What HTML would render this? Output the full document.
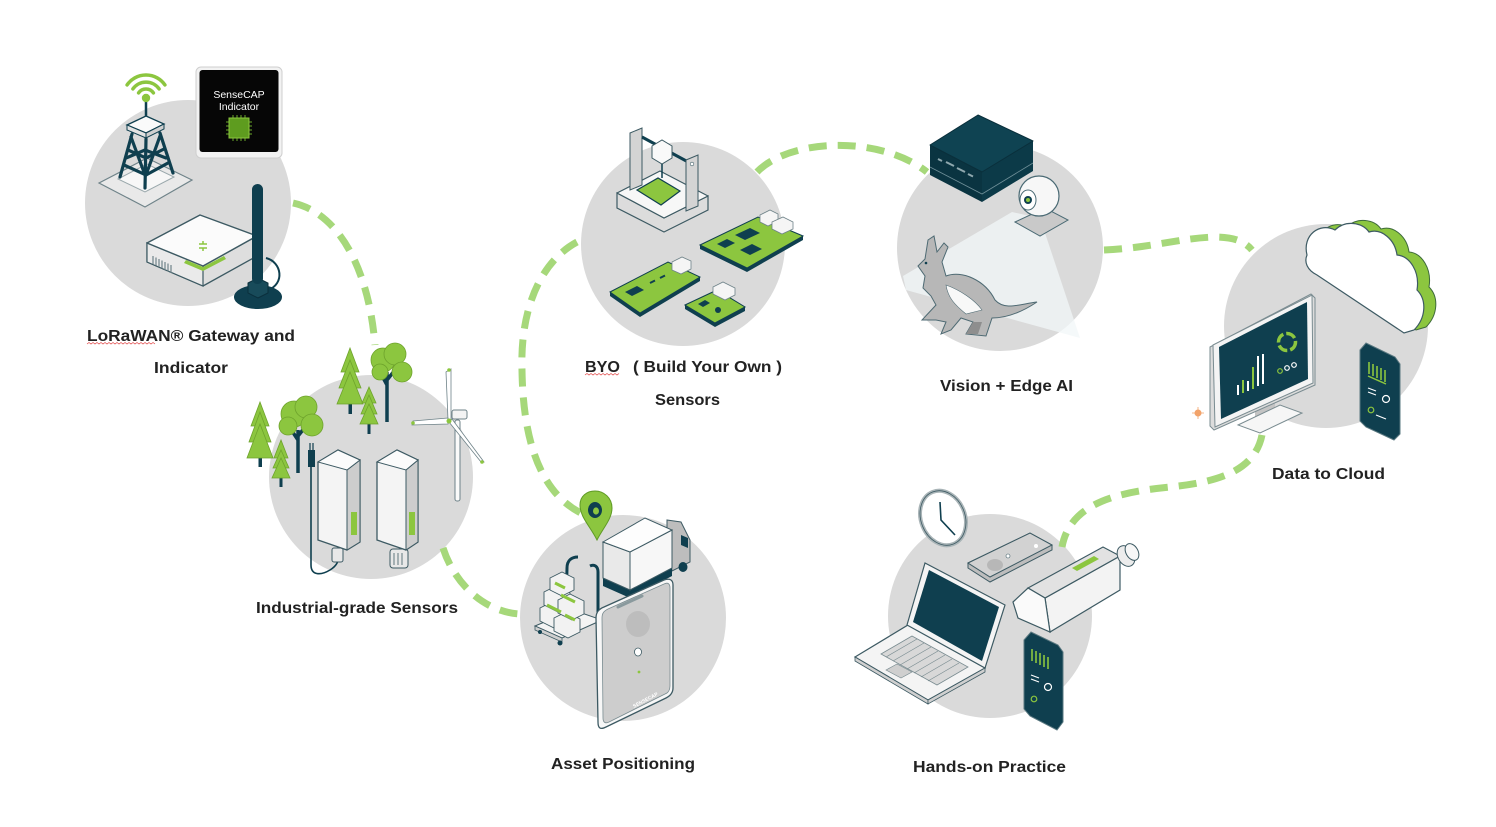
<!DOCTYPE html>
<html><head><meta charset="utf-8"><style>
html,body{margin:0;padding:0;background:#fff;}
svg{display:block;}
text{font-family:"Liberation Sans",Arial,sans-serif;font-weight:bold;}
</style></head><body>
<svg width="1496" height="827" viewBox="0 0 1496 827" xmlns="http://www.w3.org/2000/svg">
<rect width="1496" height="827" fill="#fff"/>
<!-- circles -->
<g fill="#dadada">
<circle cx="188" cy="203" r="103"/>
<circle cx="371" cy="477" r="102"/>
<circle cx="683" cy="244" r="102"/>
<circle cx="1000" cy="248" r="103"/>
<circle cx="1326" cy="326" r="102"/>
<circle cx="623" cy="618" r="103"/>
<circle cx="990" cy="616" r="102"/>
</g>
<!-- connectors -->
<g fill="none" stroke="#a6d87a" stroke-width="7" stroke-dasharray="18 11">
<path d="M293,203 C335,212 368,262 375,345"/>
<path d="M443,548 C455,585 485,612 520,614"/>
<path d="M577,242 C540,262 520,310 522,370 C523,440 540,495 585,515"/>
<path d="M757,172 C790,138 880,135 927,172"/>
<path d="M1104,250 C1150,248 1180,238 1215,237 C1235,237 1245,242 1252,250"/>
<path d="M1262,435 C1255,470 1220,482 1170,487 C1120,492 1070,502 1062,547"/>
</g>

<!-- ===== Circle 1: LoRaWAN ===== -->
<!-- tower base -->
<polygon points="99,183 147,158 192,180 145,207" fill="#e9e9e9" stroke="#6f8389" stroke-width="1.2"/>
<polygon points="118,179 147,164 174,177 145,192" fill="#f7f7f7" stroke="#9aa8ac" stroke-width="1"/>
<!-- lattice -->
<g stroke="#0f3f4f" stroke-width="3.2" fill="none" stroke-linecap="round">
<path d="M132,134 L120,177"/><path d="M160,133 L173,173"/><path d="M146,139 L145,188"/>
<path d="M128,150 L146,158 L164,149"/><path d="M124,165 L146,175 L168,163"/>
<path d="M131,137 L145,175"/><path d="M160,136 L146,175"/>
<path d="M126,158 L145,150 L166,158"/>
</g>
<polygon points="127,125 146,116 164,124 146,133" fill="#fafafa" stroke="#0f3f4f" stroke-width="1.3"/>
<polygon points="127,125 146,133 146,138 127,130" fill="#e3e3e3" stroke="#0f3f4f" stroke-width="1"/>
<polygon points="146,133 164,124 164,129 146,138" fill="#d0d0d0" stroke="#0f3f4f" stroke-width="1"/>
<line x1="146" y1="116" x2="146" y2="100" stroke="#0f3f4f" stroke-width="2.5"/>
<circle cx="146" cy="98" r="4.2" fill="#8cc63f"/>
<g fill="none" stroke="#8cc63f" stroke-width="3.5" stroke-linecap="round">
<path d="M138.6,92.9 A9 9 0 0 1 153.4,92.9"/>
<path d="M132.9,88.9 A16 16 0 0 1 159.1,88.9"/>
<path d="M127.1,84.9 A23 23 0 0 1 164.9,84.9"/>
</g>
<!-- indicator -->
<rect x="196" y="67" width="86" height="91" rx="5" fill="#f2f2f2" stroke="#cfcfcf"/>
<rect x="199.5" y="70" width="79" height="82" rx="3" fill="#060606"/>
<text x="239" y="98" font-size="10.5" fill="#fff" text-anchor="middle" style="font-weight:normal">SenseCAP</text>
<text x="239" y="110" font-size="10.5" fill="#fff" text-anchor="middle" style="font-weight:normal">Indicator</text>
<g stroke="#6aa82a" stroke-width="1">
<path d="M229,122 h-3 M229,126 h-3 M229,130 h-3 M229,134 h-3 M249,122 h3 M249,126 h3 M249,130 h3 M249,134 h3 M233,118 v-3 M237,118 v-3 M241,118 v-3 M245,118 v-3 M233,138 v3 M237,138 v3 M241,138 v3 M245,138 v3"/>
</g>
<rect x="229" y="118" width="20" height="20" fill="#5e9c1f" stroke="#8cc63f" stroke-width="1"/>
<!-- gateway -->
<polygon points="147,243 147,262 203,286 257,256 257,236 203,266" fill="#dedede" stroke="#3d5a63" stroke-width="1.3"/>
<polygon points="147,243 203,266 203,286 147,262" fill="#eaeaea" stroke="#3d5a63" stroke-width="1.2"/>
<polygon points="147,243 200,215 257,236 203,266" fill="#fbfbfb" stroke="#3d5a63" stroke-width="1.4" stroke-linejoin="round"/>
<path d="M186,260 L203,267 L224,256 L226,259 L203,271 L184,263 Z" fill="#8cc63f"/>
<g stroke="#6f8389" stroke-width="1.2"><path d="M153,256 v8 M156,257.5 v8 M159,259 v8 M162,260.5 v8 M165,262 v8 M168,263.5 v8 M171,265 v8"/></g>
<path d="M199,244 h8 M199,248 h8 M203,241 v3 M203,248 v3" stroke="#8cc63f" stroke-width="1.5"/>
<!-- antenna -->
<path d="M268,290 C285,284 282,262 266,258" fill="none" stroke="#0f3f4f" stroke-width="2"/>
<ellipse cx="258" cy="297" rx="24" ry="12" fill="#0f3f4f"/>
<polygon points="248,283 258,278 268,283 268,293 258,298 248,293" fill="#184b5a" stroke="#0a2f3b"/>
<rect x="252" y="184" width="11" height="100" rx="5.5" fill="#0f3f4f"/>

<!-- ===== Circle 2: Industrial ===== -->
<g fill="#8cc63f" stroke="#6ea32c" stroke-width="0.8">
<!-- conifer A -->
<rect x="258.5" y="452" width="3.5" height="15" fill="#0f3f4f" stroke="none"/>
<polygon points="260,402 251,426 269,426"/><polygon points="260,412 249,442 271,442"/><polygon points="260,424 247,458 273,458"/>
<!-- conifer B -->
<rect x="279.5" y="474" width="3" height="13" fill="#0f3f4f" stroke="none"/>
<polygon points="281,440 274,458 288,458"/><polygon points="281,450 273,468 289,468"/><polygon points="281,458 272,478 290,478"/>
<!-- conifer D -->
<rect x="348.5" y="400" width="3.5" height="14" fill="#0f3f4f" stroke="none"/>
<polygon points="350,348 341,372 359,372"/><polygon points="350,360 339,388 361,388"/><polygon points="350,372 337,404 363,404"/>
<!-- conifer E -->
<rect x="367.5" y="421" width="3" height="13" fill="#0f3f4f" stroke="none"/>
<polygon points="369,387 362,403 376,403"/><polygon points="369,395 361,414 377,414"/><polygon points="369,404 360,424 378,424"/>
</g>
<!-- deciduous C -->
<path d="M298,473 L298,430 M298,440 L290,428 M298,436 L306,426" stroke="#0f3f4f" stroke-width="3.5" fill="none"/>
<g fill="#8cc63f" stroke="#6ea32c" stroke-width="0.8">
<circle cx="294" cy="414" r="13"/><circle cx="306" cy="407" r="11"/><circle cx="288" cy="426" r="9"/><circle cx="312" cy="425" r="11"/>
</g>
<!-- deciduous F -->
<path d="M387,422 L387,372 M387,385 L380,372 M387,380 L395,370" stroke="#0f3f4f" stroke-width="3.5" fill="none"/>
<g fill="#8cc63f" stroke="#6ea32c" stroke-width="0.8">
<circle cx="383" cy="360" r="12"/><circle cx="395" cy="354" r="11"/><circle cx="380" cy="372" r="8"/><circle cx="402" cy="372" r="10"/>
</g>
<!-- turbine -->
<rect x="455" y="420" width="5" height="81" rx="2" fill="#fafafa" stroke="#6f8389" stroke-width="1"/>
<polygon points="448,420 446,372 451,369 451,420" fill="#fff" stroke="#6f8389" stroke-width="0.8"/>
<polygon points="448,418 413,421 412,425 448,424" fill="#fff" stroke="#6f8389" stroke-width="0.8"/>
<polygon points="449,422 481,462 484,462 452,419" fill="#fff" stroke="#6f8389" stroke-width="0.8"/>
<rect x="452" y="410" width="15" height="9" rx="2" fill="#f3f3f3" stroke="#6f8389" stroke-width="1"/>
<circle cx="449" cy="421" r="2.5" fill="#8cc63f"/>
<circle cx="449" cy="370" r="1.8" fill="#8cc63f"/><circle cx="413" cy="423" r="1.8" fill="#8cc63f"/><circle cx="482" cy="462" r="1.8" fill="#8cc63f"/>
<!-- sensor cable -->
<path d="M311,465 L311,565 C311,575 320,576 330,570 C338,565 338,560 338,560" fill="none" stroke="#0f3f4f" stroke-width="1.6"/>
<rect x="308" y="450" width="7" height="17" fill="#0f3f4f"/>
<path d="M310,450 v-7 M313,450 v-7" stroke="#0f3f4f" stroke-width="1.2"/>
<!-- sensor 1 -->
<rect x="332" y="548" width="11" height="14" rx="2" fill="#e8e8e8" stroke="#3d5a63"/>
<path d="M318,462 L338,450 L360,460 L360,542 L347,550 L318,540 Z" fill="#f4f4f4" stroke="#3d5a63" stroke-width="1.3"/>
<path d="M347,470 L360,460 L360,542 L347,550 Z" fill="#cdcdcd" stroke="#3d5a63" stroke-width="1"/>
<path d="M318,462 L338,450 L360,460 L347,470 Z" fill="#fbfbfb" stroke="#3d5a63" stroke-width="1"/>
<rect x="351" y="512" width="6" height="23" fill="#8cc63f"/>
<!-- sensor 2 -->
<rect x="390" y="549" width="18" height="19" rx="3" fill="#e8e8e8" stroke="#3d5a63"/>
<path d="M394,553 v12 M398,553 v12 M402,553 v12" stroke="#3d5a63" stroke-width="0.8"/>
<path d="M377,462 L397,450 L418,460 L418,542 L406,550 L377,540 Z" fill="#f4f4f4" stroke="#3d5a63" stroke-width="1.3"/>
<path d="M406,470 L418,460 L418,542 L406,550 Z" fill="#cdcdcd" stroke="#3d5a63" stroke-width="1"/>
<path d="M377,462 L397,450 L418,460 L406,470 Z" fill="#fbfbfb" stroke="#3d5a63" stroke-width="1"/>
<rect x="409" y="512" width="6" height="23" fill="#8cc63f"/>

<!-- ===== Circle 3: BYO ===== -->
<!-- printer -->
<path d="M617,193 L617,208 L664,232 L708,210 L708,196 L664,218 Z" fill="#dcdcdc" stroke="#3d5a63" stroke-width="1.2"/>
<polygon points="617,193 660,171 708,196 664,218" fill="#f7f7f7" stroke="#3d5a63" stroke-width="1.2" stroke-linejoin="round"/>
<polygon points="637,190 658,178 680,191 661,205" fill="#8cc63f" stroke="#0f3f4f" stroke-width="1.2"/>
<polygon points="630,133 642,128 642,185 630,190" fill="#d4d4d4" stroke="#3d5a63" stroke-width="1"/>
<line x1="642" y1="137" x2="690" y2="163" stroke="#0f3f4f" stroke-width="3"/>
<polygon points="686,160 698,155 698,206 686,211" fill="#d4d4d4" stroke="#3d5a63" stroke-width="1"/>
<circle cx="692" cy="164" r="1.8" fill="#fff" stroke="#3d5a63" stroke-width="0.6"/>
<polygon points="652,146 662,140 672,146 672,158 662,164 652,158" fill="#f9f9f9" stroke="#3d5a63" stroke-width="1"/>
<line x1="662" y1="164" x2="662" y2="178" stroke="#0f3f4f" stroke-width="1.5"/>
<!-- pi board -->
<polygon points="700,245 747,268 747,272 700,249" fill="#0f3f4f"/>
<polygon points="747,268 803,236 803,240 747,272" fill="#0f3f4f"/>
<polygon points="700,245 758,217 803,236 747,268" fill="#8cc63f" stroke="#0f3f4f" stroke-width="1"/>
<polygon points="717,244 727,239 735,243 725,248" fill="#0f3f4f"/>
<polygon points="735,235 750,228 760,233 745,240" fill="#0f3f4f"/>
<polygon points="740,250 752,244 762,249 750,255" fill="#0f3f4f"/>
<polygon points="760,215 770,210 778,214 778,221 768,226 760,222" fill="#f5f5f5" stroke="#6f8389" stroke-width="0.8"/>
<polygon points="772,222 783,217 793,222 793,229 782,234 772,229" fill="#f5f5f5" stroke="#6f8389" stroke-width="0.8"/>
<!-- grove 1 -->
<polygon points="610,292 640,313 640,317 610,296" fill="#0f3f4f"/>
<polygon points="640,313 700,277 700,281 640,317" fill="#0f3f4f"/>
<polygon points="610,292 668,262 700,277 640,313" fill="#8cc63f" stroke="#0f3f4f" stroke-width="1"/>
<polygon points="625,292 637,286 644,290 632,296" fill="#0f3f4f"/>
<path d="M650,283 l5,-2.5 M660,278 l5,-2.5" stroke="#0f3f4f" stroke-width="2"/>
<polygon points="672,262 682,257 691,261 691,269 681,274 672,270" fill="#f5f5f5" stroke="#6f8389" stroke-width="0.8"/>
<!-- grove 2 -->
<polygon points="685,305 715,323 715,327 685,309" fill="#0f3f4f"/>
<polygon points="715,323 745,307 745,311 715,327" fill="#0f3f4f"/>
<polygon points="685,305 717,290 745,307 715,323" fill="#8cc63f" stroke="#0f3f4f" stroke-width="1"/>
<polygon points="713,287 723,282 735,288 735,295 725,300 713,294" fill="#f5f5f5" stroke="#6f8389" stroke-width="0.8"/>
<circle cx="718" cy="310" r="3" fill="#0f3f4f"/>
<polygon points="698,304 705,300 710,303 703,307" fill="#0f3f4f"/>

<!-- ===== Circle 4: Vision ===== -->
<polygon points="1012,212 1040,218 1080,338 906,290 903,276" fill="#f2f7f8" opacity="0.75"/>
<!-- kangaroo -->
<path d="M918,266 L925,259 L928,240 L934,236 L937,252 L944,243 L948,247 L942,262 L946,276 C962,270 985,280 995,300 C1005,311 1020,304 1037,302 C1022,312 1006,318 992,318 L986,336 L966,334 L973,322 L961,318 L951,330 L941,334 L946,322 L936,320 L922,320 L936,305 L931,296 L923,288 L925,276 Z" fill="#b7b7b7" stroke="#4e6a73" stroke-width="1"/>
<path d="M946,285 C960,290 975,300 982,310 L966,314 C955,305 948,298 946,285 Z" fill="#f8f8f8" stroke="#4e6a73" stroke-width="0.6"/>
<path d="M966,334 L973,322 L982,322 L978,334 Z" fill="#8e8e8e"/>
<circle cx="926" cy="263" r="1.3" fill="#0f3f4f"/>
<!-- mini pc -->
<polygon points="930,145 982,172 982,202 930,175" fill="#0a3441"/>
<polygon points="982,172 1033,141 1033,171 982,202" fill="#0c3a48"/>
<polygon points="930,145 978,115 1033,141 982,172" fill="#0f4352" stroke="#0a2f3b" stroke-linejoin="round"/>
<path d="M930,167 L982,194 L1033,163" fill="none" stroke="#6f8f98" stroke-width="0.8"/>
<path d="M938,159 l4,2 M946,162 l8,4 M957,168 l8,4 M968,174 l5,2.5" stroke="#8fa8ae" stroke-width="2"/>
<!-- webcam -->
<polygon points="1015,222 1045,208 1068,220 1040,236" fill="#c9c9c9" stroke="#4a6a74" stroke-width="1"/>
<circle cx="1039" cy="196" r="20" fill="#f7f7f7" stroke="#4a6a74" stroke-width="1.2"/>
<ellipse cx="1028" cy="200" rx="8" ry="10" fill="#fff" stroke="#4a6a74" stroke-width="1"/>
<circle cx="1028" cy="200" r="4" fill="#0f3f4f"/>
<circle cx="1028" cy="200" r="2" fill="#8cc63f"/>

<!-- ===== Circle 5: Data to Cloud ===== -->
<path d="M1319,252 C1314,232 1332,219 1347,227 C1357,217 1374,219 1381,229 C1394,225 1407,237 1409,252 C1422,253 1432,269 1429,287 C1439,297 1438,315 1426,327 L1416,330 L1329,272 C1319,267 1316,259 1319,252 Z" fill="#8cc63f" stroke="#3d6a3a" stroke-width="1"/>
<path d="M1307,255 C1302,235 1320,222 1335,230 C1345,220 1362,222 1369,232 C1382,228 1395,240 1397,255 C1410,256 1420,272 1417,290 C1427,300 1426,318 1414,330 L1404,333 L1317,275 C1307,270 1304,262 1307,255 Z" fill="#fff" stroke="#3d5a63" stroke-width="1.2"/>
<!-- monitor -->
<polygon points="1255,405 1275,396 1275,415 1255,424" fill="#c4c4c4"/>
<polygon points="1238,425 1280,405 1302,413 1260,433" fill="#f6f6f6" stroke="#7a8c91" stroke-width="1"/>
<polygon points="1210,347 1311,294 1315,298 1315,385 1214,430 1210,426" fill="#dcdcdc" stroke="#7a8c91" stroke-width="1"/>
<polygon points="1213,345 1312,295 1313,383 1215,427" fill="#f4f4f4" stroke="#7a8c91" stroke-width="1"/>
<polygon points="1219,347 1307,302 1308,379 1221,419" fill="#0f3f4f"/>
<g stroke-width="2"><path d="M1238,395 v-10" stroke="#fff"/><path d="M1243,393 v-13" stroke="#8cc63f"/><path d="M1248,391 v-10" stroke="#fff"/><path d="M1253,389 v-22" stroke="#8cc63f"/><path d="M1258,386 v-30" stroke="#fff"/><path d="M1263,384 v-30" stroke="#fff"/></g>
<circle cx="1287" cy="342" r="8.5" fill="none" stroke="#8cc63f" stroke-width="3.5" stroke-dasharray="10 3"/>
<g fill="none" stroke-width="1.2"><circle cx="1280" cy="371" r="2.3" stroke="#8cc63f"/><circle cx="1287" cy="368" r="2.3" stroke="#fff"/><circle cx="1294" cy="365" r="2.3" stroke="#fff"/></g>
<!-- phone -->
<path d="M1360,350 L1366,343 L1395,357 L1400,364 L1400,434 L1394,440 L1366,427 L1360,421 Z" fill="#0f3f4f" stroke="#5a7880" stroke-width="1"/>
<g stroke="#8cc63f" stroke-width="1.6"><path d="M1369,362 v12 M1373,364 v12 M1377,366 v12 M1381,368 v12 M1385,370 v12"/></g>
<path d="M1368,376 l18,8" stroke="#8cc63f" stroke-width="1.5"/>
<path d="M1368,388 l8,3 M1368,392 l8,3" stroke="#fff" stroke-width="1.2"/>
<circle cx="1386" cy="399" r="3.5" fill="none" stroke="#fff" stroke-width="1.2"/>
<circle cx="1371" cy="410" r="2.8" fill="none" stroke="#8cc63f" stroke-width="1.2"/>
<path d="M1376,415 l10,4" stroke="#fff" stroke-width="1.2"/>
<!-- orange mark -->
<circle cx="1198" cy="413" r="3.5" fill="#f2a36a"/>
<path d="M1192,413 h12 M1198,407 v12" stroke="#f2a36a" stroke-width="0.8"/>

<!-- ===== Circle 6: Asset Positioning ===== -->
<!-- pin -->
<path d="M597,540 C590,526 580,517 580,505 C580,496 587,491 595,491 C604,491 612,498 612,508 C612,519 603,528 597,540 Z" fill="#8cc63f" stroke="#5f9a25" stroke-width="1"/>
<ellipse cx="595" cy="510" rx="7" ry="8" fill="#0f3f4f"/>
<ellipse cx="596" cy="511" rx="3" ry="3.6" fill="#8cc63f"/>
<!-- truck -->
<polygon points="667,520 681,522 690,540 690,562 672,571 667,532" fill="#bdbdbd" stroke="#3d5a63" stroke-width="1"/>
<polygon points="681,535 688,538 688,548 681,545" fill="#0f3f4f"/>
<polygon points="603,578 630,590 672,568 672,576 630,598 603,586" fill="#0f3f4f"/>
<polygon points="603,542 630,552 630,590 603,578" fill="#e9e9e9" stroke="#3d5a63" stroke-width="1"/>
<polygon points="630,552 672,530 672,568 630,590" fill="#f7f7f7" stroke="#3d5a63" stroke-width="1"/>
<polygon points="603,542 645,518 672,530 630,552" fill="#fdfdfd" stroke="#3d5a63" stroke-width="1"/>
<ellipse cx="632" cy="597" rx="4.5" ry="5" fill="#0f3f4f"/>
<ellipse cx="683" cy="567" rx="4.5" ry="5" fill="#0f3f4f"/>
<!-- cart -->
<path d="M566,610 L567,568 C567,560 572,557 578,557 M598,614 L598,572 C598,566 594,564 590,566" fill="none" stroke="#0f3f4f" stroke-width="3"/>
<polygon points="535,626 573,610 602,620 562,638" fill="#f4f4f4" stroke="#3d5a63" stroke-width="1"/>
<polygon points="535,626 562,638 562,642 535,630" fill="#cfcfcf" stroke="#3d5a63" stroke-width="0.8"/>
<circle cx="560" cy="643" r="2.5" fill="#0f3f4f"/><circle cx="540" cy="632" r="2" fill="#0f3f4f"/>
<g stroke="#3d5a63" stroke-width="0.9">
<polygon points="540,608 552,602 566,609 566,622 554,628 540,621" fill="#f2f2f2"/>
<polygon points="554,618 566,612 580,619 580,632 568,638 554,631" fill="#f2f2f2"/>
<polygon points="544,592 556,586 570,593 570,606 558,612 544,605" fill="#f2f2f2"/>
<polygon points="558,600 570,594 584,601 584,614 572,620 558,613" fill="#f2f2f2"/>
<polygon points="550,578 562,572 574,578 574,590 562,596 550,590" fill="#f2f2f2"/>
</g>
<path d="M547,605 l14,7 M561,595 l14,7 M555,583 l10,5 M565,615 l10,5" stroke="#8cc63f" stroke-width="3"/>
<!-- tracker -->
<path d="M596,618 C596,612 599,609 604,607 L664,580 C670,578 673,580 673,585 L673,688 C673,693 670,696 666,698 L606,727 C600,730 598,728 598,722 Z" fill="#f7f7f7" stroke="#3d5a63" stroke-width="1.3"/>
<path d="M602,618 C602,613 604,611 608,609 L664,584 C668,582 670,584 670,588 L670,686 C670,690 668,693 665,694 L609,722 C605,724 603,722 603,718 Z" fill="#cdcdcd" stroke="#7a8c91" stroke-width="0.8"/>
<path d="M618,607 L642,596" stroke="#8a9a9e" stroke-width="3" stroke-linecap="round"/>
<ellipse cx="638" cy="624" rx="12" ry="13" fill="#bdbdbd"/>
<ellipse cx="638" cy="652" rx="3.5" ry="4" fill="#fff" stroke="#3d5a63" stroke-width="0.8"/>
<circle cx="639" cy="672" r="1.4" fill="#8cc63f"/>
<text x="634" y="708" font-size="5" fill="#fff" transform="rotate(-28 634 708)">SENSECAP</text>

<!-- ===== Circle 7: Hands-on ===== -->
<!-- clock -->
<ellipse cx="943" cy="518" rx="22" ry="28" transform="rotate(-22 943 518)" fill="#fff" stroke="#a9b4b7" stroke-width="4"/>
<ellipse cx="943" cy="518" rx="22" ry="28" transform="rotate(-22 943 518)" fill="none" stroke="#3d5a63" stroke-width="0.8"/>
<path d="M940,502 L941,520 L955,535" fill="none" stroke="#0f3f4f" stroke-width="1.6"/>
<!-- small device -->
<polygon points="968,563 1030,533 1052,545 1052,550 990,582 968,568" fill="#bdbdbd" stroke="#3d5a63" stroke-width="1"/>
<polygon points="968,563 1030,533 1052,545 990,577" fill="#d2d2d2" stroke="#3d5a63" stroke-width="1"/>
<ellipse cx="995" cy="565" rx="8" ry="6" fill="#b7b7b7"/>
<circle cx="1008" cy="556" r="2" fill="#fff" stroke="#3d5a63" stroke-width="0.6"/>
<circle cx="1036" cy="546" r="2" fill="#fff"/>
<!-- laptop -->
<polygon points="855,657 908,625 985,668 928,700" fill="#f4f4f4" stroke="#3d5a63" stroke-width="1.2"/>
<polygon points="855,657 928,700 928,704 855,661" fill="#d0d0d0" stroke="#3d5a63" stroke-width="0.8"/>
<polygon points="928,700 985,668 985,672 928,704" fill="#d0d0d0" stroke="#3d5a63" stroke-width="0.8"/>
<polygon points="881,654 912,636 968,667 937,685" fill="#d8d8d8" stroke="#7a8c91" stroke-width="0.8"/>
<g stroke="#7a8c91" stroke-width="0.7"><path d="M886,657 L917,639 M893,661 L924,643 M900,665 L931,647 M907,669 L938,651 M914,673 L945,655 M921,677 L952,659 M928,681 L959,663"/></g>
<polygon points="886,670 897,664 912,672 901,678" fill="#cfcfcf" stroke="#7a8c91" stroke-width="0.7"/>
<polygon points="907,625 925,563 1005,605 985,668" fill="#f4f4f4" stroke="#3d5a63" stroke-width="1.2"/>
<polygon points="913,622 929,570 999,607 982,661" fill="#0f3f4f"/>
<!-- camera sensor -->
<polygon points="1045,598 1120,556 1120,590 1050,632" fill="#f3f3f3" stroke="#3d5a63" stroke-width="1.2"/>
<polygon points="1028,588 1103,547 1120,556 1045,598" fill="#e2e2e2" stroke="#3d5a63" stroke-width="1.2"/>
<polygon points="1072,568 1094,556 1099,559 1077,571" fill="#8cc63f"/>
<polygon points="1013,602 1028,588 1045,598 1050,632 1018,618" fill="#fafafa" stroke="#3d5a63" stroke-width="1.2"/>
<ellipse cx="1126" cy="556" rx="8" ry="11" transform="rotate(-30 1126 556)" fill="#ececec" stroke="#3d5a63" stroke-width="1"/>
<ellipse cx="1132" cy="552" rx="6" ry="9" transform="rotate(-30 1132 552)" fill="#f7f7f7" stroke="#3d5a63" stroke-width="1"/>
<!-- phone 7 -->
<path d="M1024,640 L1031,632 L1058,645 L1063,652 L1063,722 L1057,730 L1030,716 L1024,709 Z" fill="#0f3f4f" stroke="#5a7880" stroke-width="1"/>
<g stroke="#8cc63f" stroke-width="1.6"><path d="M1032,649 v12 M1036,651 v12 M1040,653 v12 M1044,655 v12 M1048,657 v12"/></g>
<path d="M1031,675 l8,3 M1031,679 l8,3" stroke="#fff" stroke-width="1.2"/>
<circle cx="1048" cy="687" r="3.5" fill="none" stroke="#fff" stroke-width="1.2"/>
<circle cx="1034" cy="699" r="2.8" fill="none" stroke="#8cc63f" stroke-width="1.2"/>

<!-- ===== Labels ===== -->
<g fill="#222" font-size="16">
<text x="87" y="341" textLength="208" lengthAdjust="spacingAndGlyphs">LoRaWAN® Gateway and</text>
<text x="154" y="373" textLength="74" lengthAdjust="spacingAndGlyphs">Indicator</text>
<text x="256" y="613" textLength="202" lengthAdjust="spacingAndGlyphs">Industrial-grade Sensors</text>
<text x="585" y="372" textLength="35" lengthAdjust="spacingAndGlyphs">BYO</text>
<text x="633" y="372" textLength="149" lengthAdjust="spacingAndGlyphs">( Build Your Own )</text>
<text x="655" y="405" textLength="65" lengthAdjust="spacingAndGlyphs">Sensors</text>
<text x="940" y="391" textLength="133" lengthAdjust="spacingAndGlyphs">Vision + Edge AI</text>
<text x="1272" y="479" textLength="113" lengthAdjust="spacingAndGlyphs">Data to Cloud</text>
<text x="551" y="769" textLength="144" lengthAdjust="spacingAndGlyphs">Asset Positioning</text>
<text x="913" y="772" textLength="153" lengthAdjust="spacingAndGlyphs">Hands-on Practice</text>
</g>
<path d="M87,344 l2,-1.5 l2,1.5 l2,-1.5 l2,1.5 l2,-1.5 l2,1.5 l2,-1.5 l2,1.5 l2,-1.5 l2,1.5 l2,-1.5 l2,1.5 l2,-1.5 l2,1.5 l2,-1.5 l2,1.5 l2,-1.5 l2,1.5 l2,-1.5 l2,1.5 l2,-1.5 l2,1.5 l2,-1.5 l2,1.5 l2,-1.5 l2,1.5 l2,-1.5 l2,1.5 l2,-1.5 l2,1.5 l2,-1.5 l2,1.5 l2,-1.5 l2,1.5" fill="none" stroke="#e04040" stroke-width="0.7"/>
<path d="M585,375 l2,-1.5 l2,1.5 l2,-1.5 l2,1.5 l2,-1.5 l2,1.5 l2,-1.5 l2,1.5 l2,-1.5 l2,1.5 l2,-1.5 l2,1.5 l2,-1.5 l2,1.5 l2,-1.5 l2,1.5 l2,-1.5" fill="none" stroke="#e04040" stroke-width="0.7"/>
</svg>
</body></html>
